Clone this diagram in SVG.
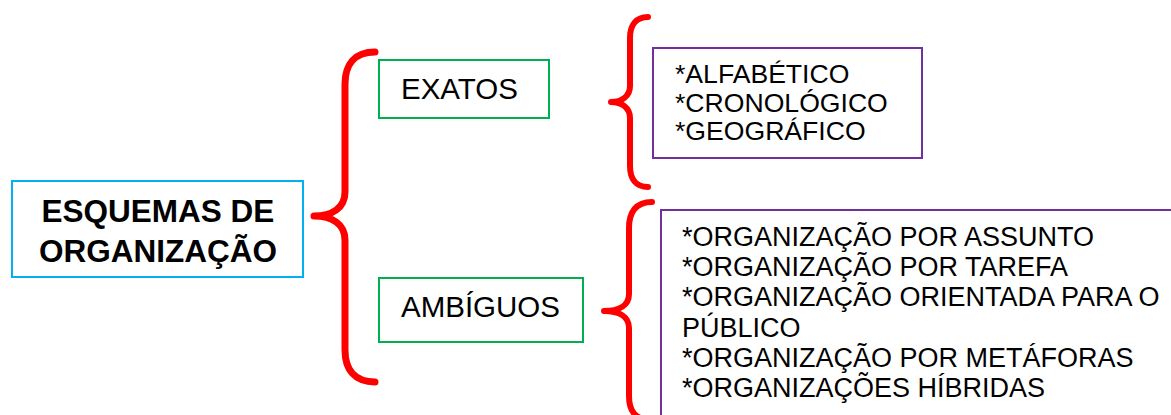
<svg xmlns="http://www.w3.org/2000/svg" width="1171" height="415" viewBox="0 0 1171 415">
<style>
.t{font-family:"Liberation Sans",Arial,sans-serif;fill:#000}
.main{font-size:31.5px;font-weight:bold;text-anchor:middle}
.mid{font-size:29.5px}
.lst1{font-size:26.6px}
.lst{font-size:27px}
.brace{fill:none;stroke:#FF0000;stroke-linecap:round;stroke-linejoin:round}
.cy{fill:#fff;stroke:#00B0F0;stroke-width:2}
.gr{fill:#fff;stroke:#00B050;stroke-width:2}
.pu{fill:#fff;stroke:#7030A0;stroke-width:2}
</style>
<rect width="1171" height="415" fill="#fff"/>
<g id="connectors">
<path class="brace" stroke-width="7" d="M375,52 C355,52 345,64 345,84 L345,192 C345,208 332,216 314,216 C332,216 345,224 345,240 L345,350 C345,370 355,382 375,382"/>
<path class="brace" stroke-width="6" d="M648,17 C636,17 630,25 630,38 L630,86 C630,96 622,102 611,102 C622,102 630,108 630,118 L630,166 C630,179 636,187 648,187"/>
<path class="brace" stroke-width="6" d="M652,202 C636,202 629,212 629,228 L629,294 C629,305 620,311 604,311 C620,311 629,317 629,328 L629,396 C629,412 636,420 652,420"/>
</g>
<g id="node-esquemas">
<rect class="cy" x="12" y="181" width="291" height="96"/>
<text class="t main" x="158" y="222">ESQUEMAS DE</text>
<text class="t main" x="158" y="262">ORGANIZAÇÃO</text>
</g>
<g id="node-exatos">
<rect class="gr" x="379" y="60" width="170" height="58"/>
<text class="t mid" x="401" y="99">EXATOS</text>
</g>
<g id="node-ambiguos">
<rect class="gr" x="379" y="278" width="204" height="64"/>
<text class="t mid" x="401" y="317">AMBÍGUOS</text>
</g>
<g id="node-exatos-list">
<rect class="pu" x="653" y="48" width="269" height="110"/>
<text class="t lst1" x="675" y="83">*ALFABÉTICO</text>
<text class="t lst1" x="675" y="112">*CRONOLÓGICO</text>
<text class="t lst1" x="675" y="140">*GEOGRÁFICO</text>
</g>
<g id="node-ambiguos-list">
<rect class="pu" x="661" y="210" width="530" height="230"/>
<text class="t lst" x="682" y="246">*ORGANIZAÇÃO POR ASSUNTO</text>
<text class="t lst" x="682" y="276">*ORGANIZAÇÃO POR TAREFA</text>
<text class="t lst" x="682" y="306">*ORGANIZAÇÃO ORIENTADA PARA O</text>
<text class="t lst" x="682" y="337">PÚBLICO</text>
<text class="t lst" x="682" y="367">*ORGANIZAÇÃO POR METÁFORAS</text>
<text class="t lst" x="682" y="397">*ORGANIZAÇÕES HÍBRIDAS</text>
</g>
</svg>
